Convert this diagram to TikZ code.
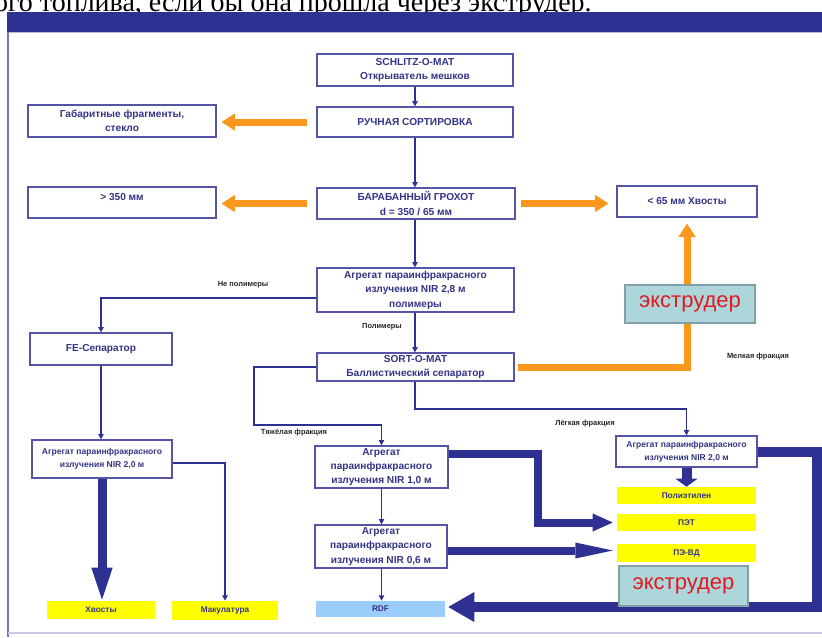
\documentclass[tikz,border=0pt]{standalone}
\usepackage{fontspec}
\setmainfont{Liberation Sans}
\newfontfamily\serifcyr{Liberation Serif}
\usetikzlibrary{arrows.meta,calc}
\pgfdeclarelayer{paper}
\pgfdeclarelayer{back}
\pgfsetlayers{paper,back,main}
\definecolor{navy}{RGB}{46,49,146}
\definecolor{boxline}{RGB}{85,85,165}
\definecolor{boxtext}{RGB}{52,52,135}
\definecolor{orng}{RGB}{250,152,30}
\definecolor{extfill}{RGB}{172,214,218}
\definecolor{extline}{RGB}{130,160,165}
\definecolor{extred}{RGB}{225,25,35}
\definecolor{ylw}{RGB}{255,255,0}
\definecolor{rdfblue}{RGB}{155,205,250}
\definecolor{framelav}{RGB}{120,120,190}
\tikzset{
 rect/.style n args={4}{minimum width={(#3-#1)*0.75pt}, minimum height={(#4-#2)*0.75pt},
   at={({(#1+#3)/2},{(#2+#4)/2})}, anchor=center},
 box/.style={draw=boxline, line width=0.9pt, fill=white, text=boxtext,
   font=\bfseries\fontsize{7.6}{10.8}\selectfont, align=center, inner sep=0pt},
 smallbox/.style={box, font=\bfseries\fontsize{6.4}{9.6}\selectfont},
 tag/.style={fill=ylw, text=boxtext, font=\bfseries\fontsize{6.2}{7}\selectfont, inner sep=0pt},
 extbox/.style={draw=extline, line width=1pt, fill=extfill, text=extred,
   font=\fontsize{16.5}{18}\selectfont, inner sep=0pt},
 flow/.style={draw=navy, line width=0.9pt, -{Triangle[length=4pt,width=4pt]}},
 fat/.style={draw=orng, line width=5.25pt, -{Triangle[length=10pt,width=13pt,line width=0pt]}},
 fatline/.style={draw=orng, line width=5.25pt, line join=miter},
 bluefat/.style={draw=navy, line join=miter},
 lbl/.style={font=\bfseries\fontsize{5.6}{7}\selectfont, text=black!85, inner sep=0pt},
}
\begin{document}
\begin{tikzpicture}[x=0.75pt,y=-0.75pt]
\useasboundingbox (0,0) rectangle (822,637);
\clip (0,0) rectangle (822,637);
\begin{pgfonlayer}{paper}
\fill[white] (0,0) rectangle (822,637);
\end{pgfonlayer}
\node[anchor=base east, font=\serifcyr\fontsize{21}{23}\selectfont, inner sep=0pt] (toptext) at (592,11)
  {ого топлива, если бы она прошла через экструдер.};
\fill[navy] (7,12) rectangle (822,32);
\draw[framelav!50, line width=1pt] (7,32.5) -- (822,32.5);
\draw[framelav, line width=0.9pt] (8,32) -- (8,637);
\draw[framelav!40, line width=0.8pt] (8,633) -- (822,633);

% boxes
\node[box, rect={317}{54}{513}{86}] (schlitz) {SCHLITZ-O-MAT\\Открыватель мешков};
\node[box, rect={317}{107}{513}{137}] (manual) {РУЧНАЯ СОРТИРОВКА};
\node[box, rect={28}{105}{216}{137}] (gabar) {Габаритные фрагменты,\\стекло};
\node[box, rect={28}{187}{216}{218}] (gt) {> 350 мм\\[-2pt]\mbox{}};
\node[box, rect={317}{188}{515}{219}] (drum) {БАРАБАННЫЙ ГРОХОТ\\d = 350 / 65 мм};
\node[box, rect={617}{186}{757}{217}] (lt) {< 65 мм Хвосты};
\node[box, rect={317}{268}{514}{312}] (nir28) {Агрегат параинфракрасного\\излучения NIR 2,8 м\\полимеры};
\node[box, rect={317}{353}{514}{381}] (sort) {SORT-O-MAT\\Баллистический сепаратор};
\node[box, rect={30}{333}{172}{365}] (fe) {FE-Сепаратор};
\node[smallbox, rect={32}{440}{172}{478}] (nirL) {Агрегат параинфракрасного\\излучения NIR 2,0 м};
\node[box, rect={315}{446}{448}{488}] (nir10) {Агрегат\\параинфракрасного\\излучения NIR 1,0 м};
\node[box, rect={315}{525}{447}{568}] (nir06) {Агрегат\\параинфракрасного\\излучения NIR 0,6 м};
\node[smallbox, rect={616}{436}{757}{467}] (nirR) {Агрегат параинфракрасного\\излучения NIR 2,0 м};
\node[tag, rect={617}{487}{756}{504}] (pe) {Полиэтилен};
\node[tag, rect={617}{514}{756}{531}] (pet) {ПЭТ};
\node[tag, rect={617}{544}{756}{562}] (peld) {ПЭ-ВД};
\node[tag, rect={47}{601}{155}{619}] (tails) {Хвосты};
\node[tag, rect={172}{601}{278}{620}] (makul) {Макулатура};
\node[tag, fill=rdfblue, rect={316}{601}{445}{617}] (rdf) {RDF};
\node[extbox, rect={625}{285}{755}{323}] (ext1) {экструдер};

% labels
\node[lbl] (lnp) at (243,285) {Не полимеры};
\node[lbl] (lpoly) at (382,327) {Полимеры};
\node[lbl] (lheavy) at (294,433) {Тяжёлая фракция};
\node[lbl] (llight) at (585,424) {Лёгкая фракция};
\node[lbl] (lfine) at (758,357) {Мелкая фракция};

% coordinates
\coordinate (c1) at (254,425);
\coordinate (c2) at (415,409);
\coordinate (c3) at (538,522.5);
\coordinate (c4) at (817,607);
\coordinate (ox) at (687,0);
\coordinate (n28w) at ($(nir28.west)+(0,8)$);
\coordinate (nLe) at ($(nirL.east)+(0,4)$);
\coordinate (n10e) at ($(nir10.east)+(0,-13)$);
\coordinate (n06e) at ($(nir06.east)+(0,4)$);

% thin connectors
\draw[flow] (schlitz.south) -- (manual.north);
\draw[flow] (manual.south) -- (manual.south |- drum.north);
\draw[flow] (manual.south |- drum.south) -- (manual.south |- nir28.north);
\draw[flow] (manual.south |- nir28.south) -- (manual.south |- sort.north);
\draw[flow] (n28w) -| (fe.north);
\draw[flow] (fe.south) -- (fe.south |- nirL.north);
\draw[flow] (sort.west) -| (c1) -| (nir10.north);
\draw[flow] (manual.south |- sort.south) -- (c2) -| (nirR.north);
\draw[flow] (nir10.south) -- (nir10.south |- nir06.north);
\draw[flow] (nir10.south |- nir06.south) -- (nir10.south |- rdf.north);
\draw[flow] (nLe) -| (makul.north);

% orange arrows
\draw[fat, shorten <=6.75pt, shorten >=3.75pt] (manual.west) -- (manual.west -| gabar.east);
\draw[fat, shorten <=6.75pt, shorten >=3.75pt] (drum.west) -- (drum.west -| gt.east);
\draw[fat, shorten <=3.75pt, shorten >=6pt] (drum.east) -- (drum.east -| lt.west);
\draw[fat, shorten >=4.5pt] (ox |- ext1.north) -- (ox |- lt.south);
\begin{pgfonlayer}{back}
\draw[fatline, shorten <=2.25pt] (sort.east) -- (sort.east -| ox) -- (ox |- ext1.south);
\draw[bluefat, line width=7.5pt, -{Triangle[length=19.5pt,width=22.5pt,line width=0pt]}, shorten >=2.25pt]
  (nirR.east) -| (c4) -- (c4 -| rdf.east);
\end{pgfonlayer}
\node[extbox, rect={619}{566}{748}{606}] (ext2) {экструдер};

% blue fat arrows
\draw[bluefat, line width=6.75pt, -{Triangle[length=24pt,width=16pt,line width=0pt]}, shorten >=0.75pt]
  (nirL.south) -- (nirL.south |- tails.north);
\draw[bluefat, line width=6pt, -{Triangle[length=15pt,width=13.5pt,line width=0pt]}, shorten >=3pt]
  (n10e) -| (c3) -- (c3 -| pet.west);
\draw[bluefat, line width=6pt, -{Triangle[length=28pt,width=12pt,line width=0pt]}, shorten >=3pt]
  (n06e) -- (n06e -| peld.west);
\draw[bluefat, line width=7.5pt, -{Triangle[length=6pt,width=16.5pt,line width=0pt]}]
  (nirR.south) -- (nirR.south |- pe.north);
\end{tikzpicture}
\end{document}
